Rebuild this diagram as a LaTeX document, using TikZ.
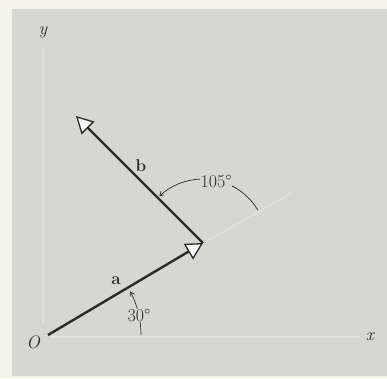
\documentclass[tikz,border=0pt]{standalone}
\usetikzlibrary{arrows.meta,calc}
\definecolor{bgcream}{HTML}{F3F3E7}
\definecolor{panel}{HTML}{D6D8D0}
\definecolor{ink}{HTML}{2A2A27}
\definecolor{faint}{HTML}{DFE1DA}
\tikzset{
  vec/.style={draw=ink, line width=2.4pt, -{Triangle[length=17pt,width=18pt,fill=white,line width=1.3pt]}},
  anglearc/.style={draw=ink, line width=0.7pt, -{Straight Barb[length=4pt,width=5pt]}},
  axisline/.style={draw=faint, line width=1.6pt},
  italab/.style={font=\fontsize{18}{21}\selectfont\itshape, text=ink},
  veclab/.style={font=\fontsize{17}{20}\selectfont\bfseries, text=ink},
  deglab/.style={font=\fontsize{18}{21}\selectfont, text=ink, fill=panel, inner sep=0.5pt},
}
\begin{document}
\begin{tikzpicture}[x=1pt,y=1pt]
\useasboundingbox (0,0) rectangle (387,378);
\fill[bgcream] (0,0) rectangle (387,378);
\fill[panel] (12,2) rectangle (387,369);
% faint axes
\coordinate (O) at (48,43);
\coordinate (A) at (203,135);
\coordinate (B) at (76,262);
\coordinate (xend) at (360,41);
\coordinate (ytop) at (43,330);
\coordinate (ybot) at (43,55);
\coordinate (aext) at (292,185);
\draw[axisline] (O) ++(2,-2) -- (xend);
\draw[axisline] (ybot) -- (ytop);
\draw[axisline, line width=1.2pt] (A) -- (aext);
% angle arcs
\draw[anglearc] (O) ++(0:93) arc[start angle=0, end angle=28, radius=93];
\node[deglab] (d30) at ($(O)+(12:93)$) {30\textdegree};
\draw[anglearc] (A) ++(31:64) arc[start angle=31, end angle=133, radius=64];
\node[deglab] (d105) at ($(A)+(78:63)$) {105\textdegree};
% vectors
\draw[vec] (O) -- (A);
\draw[vec] (A) -- (B);
% labels
\node[italab] (ylab) at (43,346) {y};
\node[italab] (Olab) at (33,36) {O};
\node[italab] (xlab) at (370,41) {x};
\node[veclab] (alab) at (116,97) {a};
\node[veclab] (blab) at (141,212) {b};
\end{tikzpicture}
\end{document}
